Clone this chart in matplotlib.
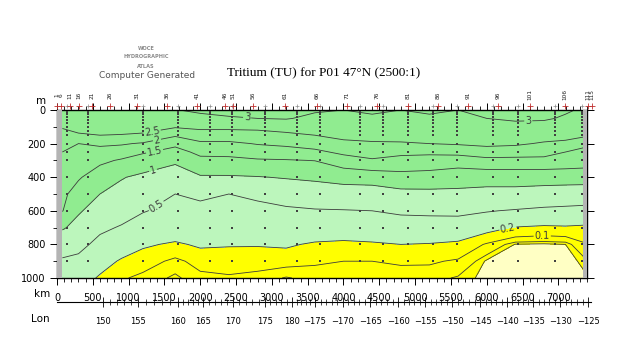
import numpy as np
import matplotlib
matplotlib.use("Agg")
import matplotlib.pyplot as plt
from matplotlib.ticker import MultipleLocator, FixedLocator

# ---------------- data ----------------
dist_km = [75, 300, 600, 900, 1200, 1650, 2000, 2400, 2800, 3200, 3600,
           4000, 4400, 4800, 5200, 5600, 6000, 6400, 6800, 7100, 7350]
depth_m = [0, 50, 100, 150, 200, 250, 300, 400, 500, 600, 700, 800, 900, 1000]

# tritium (TU) profiles, one list per distance column (top -> bottom)
tritium_profiles = [
    [2.70, 2.70, 2.55, 2.30, 2.10, 2.00, 1.90, 1.75, 1.60, 1.52, 1.05, 0.70, 0.45, 0.35],
    [2.80, 2.80, 2.65, 2.45, 2.00, 1.85, 1.75, 1.55, 1.30, 1.05, 0.85, 0.60, 0.42, 0.28],
    [2.80, 2.80, 2.65, 2.50, 2.10, 1.80, 1.60, 1.25, 1.00, 0.80, 0.57, 0.40, 0.27, 0.18],
    [2.85, 2.85, 2.70, 2.48, 2.05, 1.75, 1.45, 1.03, 0.85, 0.65, 0.47, 0.30, 0.18, 0.11],
    [2.85, 2.85, 2.70, 2.43, 1.95, 1.55, 1.30, 0.90, 0.70, 0.52, 0.35, 0.22, 0.14, 0.08],
    [2.98, 2.85, 2.55, 2.07, 1.60, 1.35, 1.08, 0.75, 0.50, 0.40, 0.30, 0.18, 0.08, 0.04],
    [3.10, 2.85, 2.60, 2.30, 1.90, 1.60, 1.40, 0.95, 0.55, 0.43, 0.32, 0.22, 0.13, 0.08],
    [3.15, 2.95, 2.60, 2.30, 1.90, 1.60, 1.42, 0.95, 0.50, 0.42, 0.33, 0.21, 0.14, 0.09],
    [3.15, 3.00, 2.60, 2.35, 2.03, 1.75, 1.45, 0.98, 0.55, 0.43, 0.33, 0.21, 0.13, 0.08],
    [3.15, 3.03, 2.70, 2.40, 2.10, 1.80, 1.47, 1.03, 0.70, 0.43, 0.32, 0.22, 0.13, 0.045],
    [3.05, 2.90, 2.75, 2.50, 2.20, 1.90, 1.51, 1.08, 0.75, 0.47, 0.32, 0.18, 0.11, 0.07],
    [3.00, 2.95, 2.80, 2.62, 2.40, 2.10, 1.80, 1.15, 0.80, 0.48, 0.30, 0.17, 0.10, 0.07],
    [3.05, 2.95, 2.80, 2.65, 2.45, 2.20, 1.95, 1.20, 0.78, 0.50, 0.32, 0.18, 0.10, 0.07],
    [3.00, 3.00, 2.90, 2.70, 2.45, 2.15, 1.80, 1.35, 0.85, 0.55, 0.35, 0.20, 0.11, 0.07],
    [3.05, 2.95, 2.85, 2.70, 2.50, 2.10, 1.80, 1.30, 0.88, 0.56, 0.36, 0.19, 0.11, 0.065],
    [3.00, 2.95, 2.85, 2.70, 2.55, 2.15, 1.75, 1.20, 0.90, 0.58, 0.33, 0.17, 0.09, 0.045],
    [3.05, 3.00, 2.90, 2.75, 2.60, 2.30, 1.85, 1.20, 0.85, 0.52, 0.25, 0.09, 0.025, 0.02],
    [3.15, 3.05, 2.90, 2.75, 2.57, 2.25, 1.85, 1.20, 0.85, 0.47, 0.19, 0.028, 0.02, 0.02],
    [3.15, 3.05, 2.85, 2.70, 2.45, 2.20, 1.85, 1.20, 0.80, 0.42, 0.17, 0.025, 0.02, 0.02],
    [3.05, 2.95, 2.80, 2.65, 2.40, 2.00, 1.80, 1.20, 0.77, 0.40, 0.18, 0.030, 0.02, 0.02],
    [2.95, 2.90, 2.75, 2.60, 2.15, 1.85, 1.75, 1.20, 0.75, 0.38, 0.17, 0.09, 0.035, 0.025],
]

labeled_levels = [0.1, 0.2, 0.5, 1, 1.5, 2, 2.5, 3]
unlabeled_levels = [0.03, 0.05]
fill_levels = [0, 0.03, 0.2, 1, 5]
fill_colors = ["#FFFFC4", "#FFFF00", "#BCF6BC", "#90EC90"]

# contour label anchor points (km, m)
label_km = [2654, 6578, 1327, 1397, 1369, 1341, 1369, 6299, 6774]
label_depth = [48, 30, 126, 181, 259, 361, 560, 711, 741]

# sampling stations and bottle depths (dots)
station_km = [140, 433, 1200, 1690, 2137, 2445, 2905, 3353, 3675, 4233,
              4554, 4903, 5253, 5588, 6091, 6440, 6957, 7335]
sample_depths = [10, 25, 40, 60, 80, 100, 125, 150, 200, 250, 300, 400,
                 500, 600, 700, 800, 900]

# station numbers on the top axis
station_numbers = [1, 6, 11, 16, 21, 26, 31, 36, 41, 46, 51, 56, 61, 66, 71,
                   76, 81, 86, 91, 96, 101, 106, 111, 115]
station_label_km = [0, 56, 182, 307, 489, 740, 1117, 1536, 1955, 2346, 2458,
                    2737, 3184, 3631, 4050, 4469, 4902, 5321, 5740, 6159,
                    6606, 7095, 7416, 7472]

# longitude axis
lon_labels = [150, 155, 160, 165, 170, 175, 180, -175, -170, -165, -160,
              -155, -150, -145, -140, -135, -130, -125]
lon_km = [642, 1131, 1690, 2039, 2458, 2905, 3282, 3603, 3994, 4372, 4763,
          5140, 5517, 5908, 6285, 6648, 7025, 7416]

# ---------------- figure ----------------
W, H = 630, 350
fig = plt.figure(figsize=(6.3, 3.5), dpi=100)
fig.patch.set_facecolor("white")

x0, x1 = 57, 587
y_top, y_bot = 110, 278
ax = fig.add_axes([x0 / W, 1 - y_bot / H, (x1 - x0) / W, (y_bot - y_top) / H])
ax.set_xlim(0, 7400)
ax.set_ylim(1000, 0)

X, Y = np.meshgrid(dist_km, depth_m)
Z = np.array(tritium_profiles).T

ax.contourf(X, Y, Z, levels=fill_levels, colors=fill_colors)
ax.contour(X, Y, Z, levels=unlabeled_levels, colors="#3c3c3c", linewidths=0.6)
cs = ax.contour(X, Y, Z, levels=labeled_levels, colors="#3c3c3c", linewidths=0.6)
fmt = {lv: f"{lv:g}" for lv in labeled_levels}
ax.clabel(cs, fmt=fmt, fontsize=7, inline=True, inline_spacing=1,
          manual=list(zip(label_km, label_depth)))

# gray no-data strips
ax.axvspan(0, dist_km[0], color="#B4B4B4", zorder=3, lw=0)
ax.axvspan(dist_km[-1], 7400, color="#B4B4B4", zorder=3, lw=0)

# sample dots
sx, sy = np.meshgrid(station_km, sample_depths)
ax.scatter(sx.ravel(), sy.ravel(), s=0.6, c="#404040", marker="s", lw=0, zorder=4)

for sp in ax.spines.values():
    sp.set_linewidth(1.0)
    sp.set_color("black")

# axes ticks
ax.xaxis.set_minor_locator(MultipleLocator(100))
ax.yaxis.set_major_locator(MultipleLocator(200))
ax.yaxis.set_minor_locator(MultipleLocator(100))
ax.set_xticks(np.arange(0, 7401, 500))
ax.set_xticklabels([f"{int(v)}" if v <= 7000 else "" for v in np.arange(0, 7401, 500)])
ax.tick_params(axis="x", which="major", direction="out", length=5, width=0.7,
               top=True, bottom=True, labelsize=7, pad=6)
ax.tick_params(axis="x", which="minor", direction="out", length=3, width=0.6,
               top=True, bottom=True)
ax.tick_params(axis="y", which="major", direction="out", length=5, width=0.7,
               left=True, right=True, labelsize=7, pad=3)
ax.tick_params(axis="y", which="minor", direction="out", length=3, width=0.6,
               left=True, right=False)
for lab in ax.get_xticklabels() + ax.get_yticklabels():
    lab.set_family("DejaVu Sans")

# station crosses and numbers on the top
ax.scatter(station_km, [-22] * len(station_km), marker="+", s=10,
           c="#909090", lw=0.5, clip_on=False, zorder=5)
ax.scatter(station_label_km, [-22] * len(station_label_km), marker="+", s=14,
           c="#C03030", lw=0.6, clip_on=False, zorder=5)
for n, k in zip(station_numbers, station_label_km):
    ax.text(k, -90, str(n), rotation=90, ha="center", va="center",
            fontsize=4.2, clip_on=False, color="#202020")

# axis names
fig.text(41 / W, 1 - 101 / H, "m", fontsize=7.5, ha="center", va="center")
fig.text(42 / W, 1 - 294 / H, "km", fontsize=7.5, ha="center", va="center")
fig.text(40 / W, 1 - 319 / H, "Lon", fontsize=7.5, ha="center", va="center")

# longitude axis
y_lon = 302
axl = fig.add_axes([x0 / W, 1 - y_lon / H, 7450 * (x1 - x0) / 7400 / W, 0.0001])
axl.set_xlim(0, 7450)
axl.set_ylim(0, 1)
for s in ["top", "left", "right"]:
    axl.spines[s].set_visible(False)
axl.spines["bottom"].set_linewidth(0.8)
axl.set_yticks([])
axl.patch.set_alpha(0)
lon_unwrapped = [v if v > 0 else v + 360 for v in lon_labels]
deg = np.arange(lon_unwrapped[0], lon_unwrapped[-1] + 1)
axl.xaxis.set_minor_locator(FixedLocator(np.interp(deg, lon_unwrapped, lon_km)))
axl.set_xticks(lon_km)
axl.set_xticklabels([str(v).replace("-", "\u2212") for v in lon_labels])
axl.tick_params(axis="x", which="major", direction="inout", length=7, width=0.6,
                labelsize=6, pad=7)
axl.tick_params(axis="x", which="minor", direction="inout", length=5, width=0.5)

# title and logo
fig.text(324 / W, 1 - 73 / H, "Tritium (TU) for P01 47\u00b0N (2500:1)",
         family="Liberation Serif", fontsize=9.5, ha="center", va="center")
for txt, yy in [("WOCE", 48), ("HYDROGRAPHIC", 57), ("ATLAS", 66)]:
    fig.text(146 / W, 1 - yy / H, txt, fontsize=3.6, weight="bold",
             color="#8a8a8a", ha="center", va="center")
fig.text(147 / W, 1 - 75 / H, "Computer Generated", fontsize=6.5,
         color="#555555", ha="center", va="center")

fig.savefig("out.png", dpi=100)
